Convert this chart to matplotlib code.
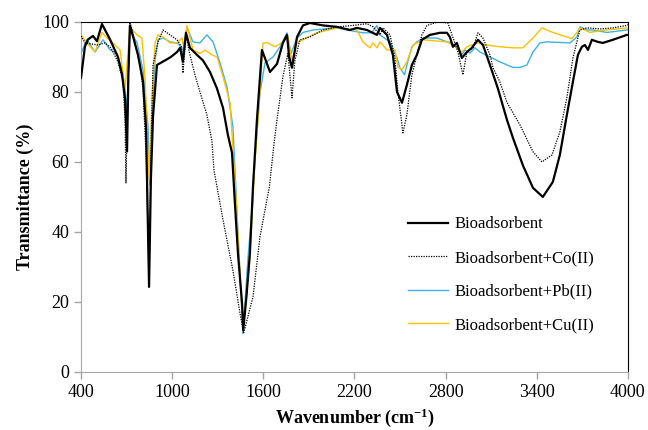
# FTIR spectra of the bioadsorbent before and after metal uptake
import matplotlib.pyplot as plt

# --- data (wavenumber cm-1, transmittance %) ---
wn_bio = [400, 426, 446, 479, 505, 538, 591, 643, 670, 690, 703, 712, 722, 729, 775, 808, 828, 848,
          860, 874, 900, 953, 992, 1032, 1052, 1071, 1091, 1117, 1163, 1203, 1249, 1295, 1335, 1367,
          1394, 1413, 1433, 1460, 1468, 1490, 1512, 1532, 1558, 1591, 1644, 1690, 1729, 1756, 1770,
          1789, 1808, 1822, 1861, 1907, 1993, 2085, 2170, 2216, 2282, 2348, 2368, 2414, 2453, 2480,
          2513, 2545, 2578, 2611, 2644, 2697, 2763, 2809, 2828, 2848, 2874, 2907, 2940, 2973, 3013,
          3046, 3092, 3144, 3204, 3243, 3309, 3375, 3440, 3506, 3552, 3598, 3638, 3671, 3697, 3717,
          3737, 3763, 3802, 3835, 3901, 3993, 4000]
t_bio = [84, 93, 95, 96, 94.5, 99.4, 95, 90, 85, 78, 63, 85, 99, 98, 90.6, 83, 70, 24.3,
         55, 73, 87.7, 89, 90, 91.4, 92.6, 88.6, 96.9, 92.6, 90.6, 89, 85.7, 81, 75.4, 67.7,
         62.6, 48.3, 34, 19.7, 12, 22, 34, 52.9, 72, 92, 85.7, 88, 94, 96.3, 90,
         86.9, 92, 95.7, 99, 99.7, 99, 98.6, 97.7, 98.3, 97.7, 96.3, 98.3, 96.3, 90.6, 80,
         76.9, 82, 87.7, 90.6, 94.9, 96.3, 96.9, 96.9, 95.7, 92.9, 94, 89.7, 91.4, 92.6, 94.9,
         93.4, 87.7, 81, 72, 66.9, 59, 52.6, 50, 54.3, 62, 73.4, 82.9, 90.6, 92.9, 93.4,
         92, 94.9, 94.3, 94, 94.9, 96.3, 96.3]

wn_co = [400, 426, 512, 558, 597, 643, 676, 690, 696, 708, 722, 740, 755, 788, 808, 830, 848, 862,
         874, 907, 940, 986, 1032, 1060, 1071, 1091, 1117, 1150, 1183, 1229, 1262, 1275, 1335, 1400,
         1446, 1470, 1532, 1578, 1640, 1670, 1690, 1729, 1762, 1789, 1808, 1841, 1907, 1993, 2085,
         2190, 2282, 2322, 2368, 2388, 2434, 2466, 2486, 2519, 2545, 2578, 2611, 2644, 2677, 2749,
         2815, 2842, 2861, 2881, 2914, 2940, 2980, 3013, 3046, 3092, 3112, 3157, 3204, 3289, 3375,
         3434, 3500, 3552, 3598, 3638, 3664, 3684, 3730, 3816, 3901, 3993, 4000]
t_co = [96, 94, 93.4, 94, 92.6, 88.6, 83, 72, 54, 80, 100, 97, 94, 87.7, 81, 60, 26, 65,
        87.7, 94.3, 97.7, 96.3, 94.9, 93, 85.4, 96.3, 90.6, 84.9, 80, 73.4, 66, 57.7, 43.4, 29,
        16.9, 11, 21.4, 38.6, 52.9, 65, 72, 84.3, 91, 78.3, 89, 94.9, 95.7, 97.7, 98.6,
        99, 99.5, 98.6, 96.3, 98.3, 96.3, 89.7, 80, 68.3, 73.4, 84.9, 90.6, 96.3, 99, 100,
        99.7, 96.3, 94, 91.4, 84.9, 91.4, 92.6, 96.9, 95.4, 90.6, 86.9, 82.9, 77, 70.6, 62.9,
        60, 62, 68.6, 78.3, 89.7, 94.3, 97.7, 98.3, 98, 98.3, 99, 99.2]

wn_pb = [400, 439, 492, 545, 591, 637, 676, 703, 722, 769, 808, 841, 854, 870, 887, 907, 940, 986,
         1032, 1065, 1071, 1098, 1137, 1183, 1229, 1269, 1315, 1361, 1400, 1433, 1466, 1500, 1525,
         1545, 1578, 1611, 1664, 1710, 1756, 1782, 1822, 1861, 1927, 2085, 2151, 2256, 2315, 2348,
         2368, 2434, 2480, 2499, 2530, 2545, 2578, 2611, 2651, 2743, 2809, 2842, 2874, 2907, 2927,
         2960, 2993, 3026, 3092, 3157, 3243, 3289, 3335, 3375, 3421, 3467, 3618, 3664, 3684, 3730,
         3769, 3862, 3993, 4000]
t_pb = [91, 94.9, 91.4, 94.9, 92, 91, 85.4, 75.4, 97.7, 94, 86.3, 70, 53.4, 75, 89, 94.9, 95.4, 94.3,
        94, 92.6, 90, 98.3, 94.3, 94, 96.3, 94.3, 88.3, 81.4, 70, 40, 11, 33, 46,
        60.6, 79.7, 88.3, 90, 92.9, 96.9, 91, 95.4, 97, 97.7, 98.3, 97.7, 96.9, 96.9, 99,
        96.3, 94.3, 89.7, 86.9, 84.9, 87.7, 92.9, 94.3, 95.4, 95.4, 94.3, 94, 92.6, 90.6, 92,
        91.1, 92.6, 91.4, 90, 88.6, 87, 87, 87.7, 91.4, 94, 94.3, 94, 95.7, 98.6, 97.7,
        97.7, 97, 97.7, 97.7]

wn_cu = [400, 439, 492, 538, 571, 611, 657, 690, 722, 769, 801, 821, 848, 870, 887, 907, 940, 986,
         1032, 1065, 1075, 1098, 1137, 1183, 1216, 1262, 1295, 1335, 1381, 1420, 1466, 1510, 1545,
         1578, 1598, 1631, 1677, 1729, 1762, 1789, 1822, 1861, 1953, 2085, 2216, 2256, 2302, 2322,
         2348, 2368, 2414, 2466, 2486, 2513, 2545, 2585, 2651, 2809, 2848, 2907, 2940, 3006, 3072,
         3157, 3243, 3309, 3375, 3434, 3506, 3598, 3631, 3664, 3684, 3750, 3816, 3993, 4000]
t_cu = [96.3, 94, 91.4, 97, 95.4, 94, 92, 80.6, 98.6, 96.3, 95.4, 84.3, 55, 80, 94, 96.3, 95.7, 94,
        94, 95.4, 93, 99, 92, 91, 92, 90.6, 90, 84.3, 76.9, 50, 12, 32, 60,
        80, 94, 94, 92.9, 94.3, 95.7, 89, 94, 94.9, 96.9, 98.3, 97.7, 94.3, 92.6, 94,
        92.6, 94.3, 92, 92, 87.1, 86.3, 88.6, 93.4, 94.9, 94.3, 93.4, 91.4, 92.9, 94, 93.4,
        92.9, 92.6, 92.6, 95.4, 98.3, 97, 95.7, 95.2, 97, 98.3, 97, 97.5, 98.3, 98.3]

plt.rcParams["font.family"] = ["Liberation Serif", "DejaVu Serif"]
plt.rcParams["mathtext.default"] = "regular"

fig = plt.figure(figsize=(6.48, 4.30), dpi=100)
ax = fig.add_axes([0.125, 0.135, 0.844, 0.814])

ax.plot(wn_bio, t_bio, color="black", lw=1.6, label="Bioadsorbent", zorder=4)
ax.plot(wn_co, t_co, color="black", lw=0.9, ls=(0, (1, 1)), label="Bioadsorbent+Co(II)", zorder=5)
ax.plot(wn_pb, t_pb, color="#3DB1E8", lw=1.0, label="Bioadsorbent+Pb(II)", zorder=3)
ax.plot(wn_cu, t_cu, color="#FFC000", lw=1.0, label="Bioadsorbent+Cu(II)", zorder=3)

ax.set_xlim(400, 4000)
ax.set_ylim(0, 100)
ax.set_xticks(range(400, 4001, 600))
ax.set_yticks(range(0, 101, 20))
ax.tick_params(direction="out", length=5, width=1, color="#A6A6A6", labelsize=13)

for s in ["left", "bottom"]:
    ax.spines[s].set_color("#A6A6A6")
for s in ["top", "right"]:
    ax.spines[s].set_color("black")

ax.set_xlabel("Wavenumber (cm$^{-1}$)", fontsize=13, fontweight="bold", labelpad=4)
ax.set_ylabel("Transmittance (%)", fontsize=13, fontweight="bold", labelpad=6)

ax.legend(loc="upper left", bbox_to_anchor=(0.57, 0.487), frameon=False, fontsize=12,
          handlelength=2.4, labelspacing=1.05, handletextpad=0.4)

fig.savefig("out.png", dpi=100)
